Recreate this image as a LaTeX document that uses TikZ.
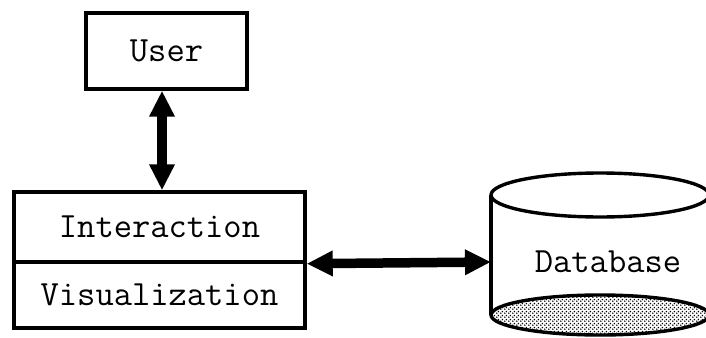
\documentclass[tikz,border=0pt]{standalone}
\usetikzlibrary{arrows.meta,patterns}
% fine diagonal dot grid for the stored-data surface
\pgfdeclarepatternformonly{stipple}{\pgfqpoint{0pt}{0pt}}{\pgfqpoint{4pt}{4pt}}{\pgfqpoint{4pt}{4pt}}{%
  \pgfpathcircle{\pgfqpoint{1pt}{1pt}}{1pt}%
  \pgfpathcircle{\pgfqpoint{3pt}{3pt}}{1pt}%
  \pgfusepath{fill}}
\tikzset{
  txt/.style={font=\ttfamily\fontsize{35.5}{40}\selectfont},
  box/.style={draw, line width=3.4pt, rectangle, inner sep=0pt, txt},
  label/.style={txt, inner sep=0pt},
  bigarrow/.style={line width=9.5pt,
    {Triangle[length=26pt,width=24pt]}-{Triangle[length=26pt,width=24pt]}},
  rim/.style={line width=3.4pt}
}
\begin{document}
\begin{tikzpicture}[x=1pt,y=-1pt]
\useasboundingbox (0,0) rectangle (706,337);

% user and the two-layer front end
\node[box, minimum width=161pt, minimum height=76pt] (user) at (166.5,51) {User};
\node[box, minimum width=291pt, minimum height=70pt] (inter) at (159.5,227) {Interaction};
\node[box, minimum width=291pt, minimum height=66pt] (vis) at (159.5,295) {Visualization};

% database cylinder
\draw[rim] (491,195) -- (491,315);
\draw[rim] (709,195) -- (709,315);
\fill[pattern=stipple] (600,315) ellipse [x radius=109, y radius=20];
\draw[rim] (600,315) ellipse [x radius=109, y radius=20];
\draw[rim, fill=white] (600,195) ellipse [x radius=109, y radius=22];
\node[label] (db) at (608,262) {Database};
\coordinate (dbleft) at (491,262);

% connectors
\draw[bigarrow] (user.south -| 162,0) -- (inter.north -| 162,0);
\draw[bigarrow] (inter.south east) -- (dbleft);
\end{tikzpicture}
\end{document}
